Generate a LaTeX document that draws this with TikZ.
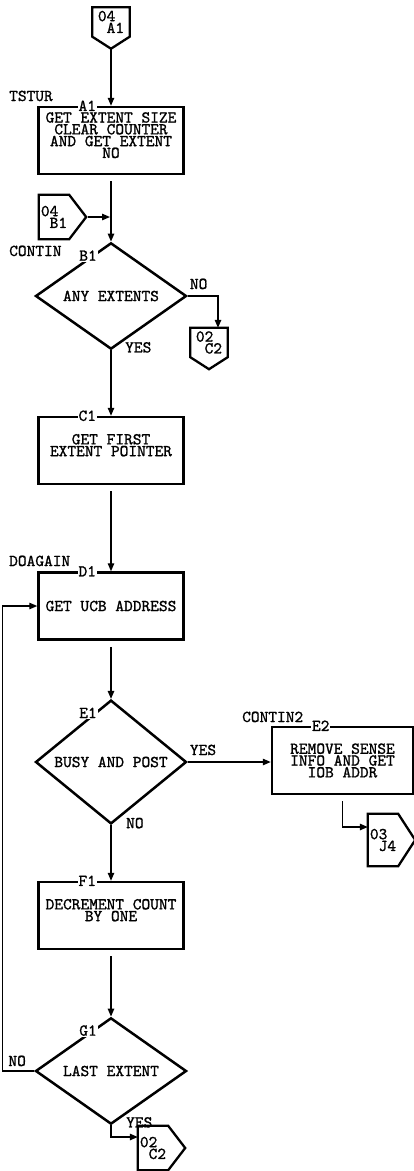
\documentclass[tikz,border=0pt]{standalone}
\usepackage{fontspec}
\newfontfamily\flowfont{lmmono10-regular.otf}[FakeBold=1.2]
\usetikzlibrary{arrows.meta, shapes.geometric}
\newcommand{\flowtype}{\flowfont\fontsize{16.6}{11.8}\selectfont}
\newcommand{\liftline}{\\[-1pt]\mbox{}}
\tikzset{process/.style={draw, rectangle, line width=2.5pt, minimum width=145,
        minimum height=67, inner sep=2pt, align=center},
    decision/.style={draw, diamond, line width=2.5pt, minimum width=151,
        minimum height=95, inner sep=0pt, align=center},
    pagebody/.style={inner sep=0pt, align=left, minimum width=37, minimum height=29},
    pagebody right/.style={inner sep=0pt, align=left, minimum width=30, minimum height=44},
    pageline/.style={draw, line width=2.3pt, line join=miter},
    flow/.style={draw, line width=1.3pt, -{Triangle[length=8pt,width=6.5pt]}},
    tag/.style={inner sep=1pt},
    idtag/.style={fill=white, inner sep=1pt}}
% off-page connector pointing down / pointing right
\newcommand{\offpagedown}[3]{%
    \node[pagebody] (#1) at #2 {#3};
    \draw[pageline] (#1.north west) -- (#1.north east) -- (#1.south east)
        -- ([yshift=-12pt]#1.south) coordinate (#1-tip) -- (#1.south west) -- cycle;}
\newcommand{\offpageright}[4][]{%
    \node[pagebody right, #1] (#2) at #3 {#4};
    \draw[pageline] (#2.south west) -- (#2.north west) -- (#2.north east)
        -- ([xshift=17pt]#2.east) coordinate (#2-tip) -- (#2.south east) -- cycle;}

\begin{document}
\begin{tikzpicture}[x=1pt, y=-1pt, every node/.style={font=\flowtype}]
    \useasboundingbox (0,0) rectangle (414,1171);

    % Off-page connectors
    \offpagedown{cA1}{(111,22)}{04\\\phantom{0}A1}
    \offpageright{cB1}{(54,217)}{04\\\phantom{0}B1}
    \offpagedown{cC2a}{(209,342.5)}{02\\\phantom{0}C2}
    \offpageright[minimum height=52]{cJ4}{(383,840)}{03\\\phantom{0}J4}
    \offpageright{cC2b}{(153,1148)}{02\\\phantom{0}C2}

    % Process boxes and decisions
    \node[process] (A1) at (111,140.5) {GET EXTENT SIZE\\CLEAR COUNTER\\AND GET EXTENT\\NO\liftline};
    \node[decision] (B1) at (111,296) {ANY EXTENTS};
    \node[process] (C1) at (111,450.5) {GET FIRST\\EXTENT POINTER\liftline};
    \node[process] (D1) at (111,606) {GET UCB ADDRESS};
    \node[decision] (E1) at (111,762) {BUSY AND POST};
    \node[process, minimum width=141] (E2) at (342.5,760.5) {REMOVE SENSE\\INFO AND GET\\IOB ADDR};
    \node[process] (F1) at (111,915.5) {DECREMENT COUNT\\BY ONE\liftline};
    \node[decision] (G1) at (111,1071) {LAST EXTENT};

    % Block ids on the outlines
    \foreach \b in {A1,C1,D1,E2,F1}
        \node[idtag] (\b-id) at ([xshift=50pt]\b.north west) {\b};
    \foreach \b in {B1,E1,G1}
        \node[idtag] (\b-id) at ([shift={(-23,14)}]\b.north) {\b};

    % Entry point names
    \node[tag, anchor=base west] (nTSTUR) at (8,101) {TSTUR};
    \node[tag, anchor=base west] (nCONTIN) at (8,256) {CONTIN};
    \node[tag, anchor=base west] (nDOAGAIN) at (8,566) {DOAGAIN};
    \node[tag, anchor=base west] (nCONTIN2) at (241,722) {CONTIN2};

    % Branch labels
    \node[tag, anchor=base west] (B1-no) at ([shift={(1,-7)}]B1.east) {NO};
    \node[tag, anchor=base west] (B1-yes) at ([shift={(13,2)}]B1.south) {YES};
    \node[tag, anchor=base west] (E1-yes) at ([shift={(1,-7)}]E1.east) {YES};
    \node[tag, anchor=base west] (E1-no) at ([shift={(14,3)}]E1.south) {NO};
    \node[tag, anchor=base west] (G1-no) at ([shift={(-27,-5)}]G1.west) {NO};
    \node[tag, anchor=base west] (G1-yes) at ([shift={(14,2)}]G1.south) {YES};

    % Flow lines
    \draw[flow] (cA1-tip) -- (A1.north);
    \draw[flow, shorten <=6pt] (A1.south) -- (B1.north);
    \draw[flow, shorten <=2pt, shorten >=1pt] (cB1-tip) -- (cB1-tip -| A1.south);
    \draw[flow] (B1.east) -| ([xshift=9pt]cC2a.north);
    \draw[flow] (B1.south) -- (C1.north);
    \draw[flow, shorten <=6pt] (C1.south) -- (D1.north);
    \draw[flow, shorten <=6pt] (D1.south) -- (E1.north);
    \draw[flow] (E1.east) -- (E1.east -| E2.west);
    \draw[flow, shorten <=6pt] (E2.south) |- ([yshift=13pt]cJ4.west);
    \draw[flow] (E1.south) -- (F1.north);
    \draw[flow, shorten <=6pt] (F1.south) -- (G1.north);
    \draw[flow] (G1.south) |- ([yshift=11pt]cC2b.west);
    \draw[flow] (G1.west) -- ++(-32,0) |- (D1.west);
\end{tikzpicture}
\end{document}
